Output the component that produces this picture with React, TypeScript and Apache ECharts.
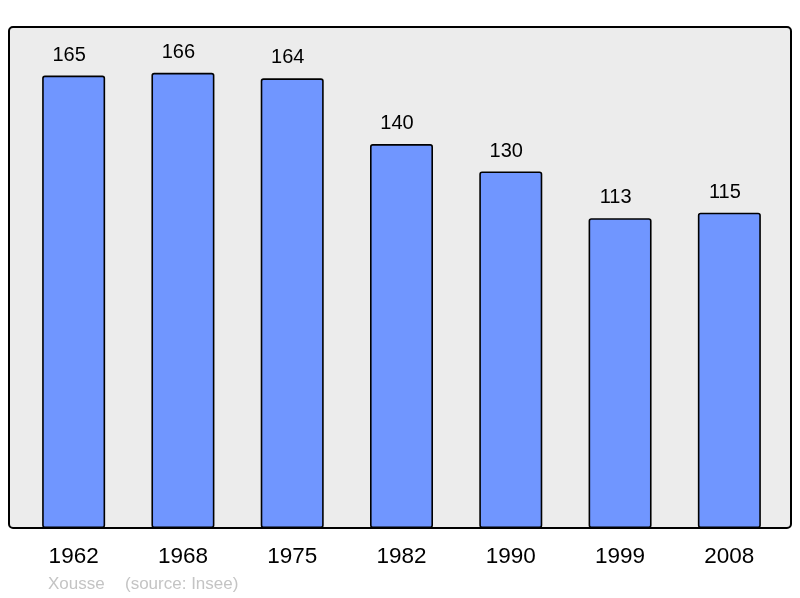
import { useEffect, useRef } from 'react'
import * as echarts from 'echarts'

const years = ['1962', '1968', '1975', '1982', '1990', '1999', '2008']
const population = [165, 166, 164, 140, 130, 113, 115]
const footerName = 'Xousse'
const footerSource = '(source: Insee)'

const font = 'Liberation Sans, Arial, sans-serif'

const App: React.FC = () => {
  const chartRef = useRef<HTMLDivElement | null>(null)

  useEffect(() => {
    if (chartRef.current === null) return
    const chart = echarts.init(chartRef.current, null, { renderer: 'svg' })
    chart.setOption({
      animation: false,
      textStyle: { fontFamily: font },
      graphic: [
        {
          type: 'rect',
          z: -10,
          shape: { x: 9, y: 27, width: 782, height: 501, r: 4 },
          style: { fill: '#ececec', stroke: '#000', lineWidth: 2 }
        },
        {
          type: 'text',
          x: 48,
          y: 575,
          style: { text: footerName, fill: '#c4c4c4', fontSize: 17, fontFamily: font }
        },
        {
          type: 'text',
          x: 125,
          y: 575,
          style: { text: footerSource, fill: '#c4c4c4', fontSize: 17, fontFamily: font }
        }
      ],
      grid: { left: 19, right: 16, top: 34.4, bottom: 70, containLabel: false },
      xAxis: {
        type: 'category',
        data: years,
        axisLine: { show: false },
        axisTick: { show: false },
        axisLabel: { color: '#000', fontSize: 22.5, margin: 16 }
      },
      yAxis: {
        type: 'value',
        min: 0,
        max: 180,
        show: false,
        splitLine: { show: false }
      },
      series: [
        {
          type: 'bar',
          data: population,
          barWidth: 63,
          itemStyle: { color: '#7096ff', borderColor: '#000', borderWidth: 1.6, borderRadius: 2 },
          label: { show: true, position: 'top', distance: 12, offset: [-4.5, 0], color: '#000', fontSize: 20 }
        }
      ]
    })
    return () => { chart.dispose() }
  }, [])

  return <div ref={chartRef} style={{ position: 'fixed', left: 0, top: 0, width: 800, height: 598 }}></div>
}

export default App
